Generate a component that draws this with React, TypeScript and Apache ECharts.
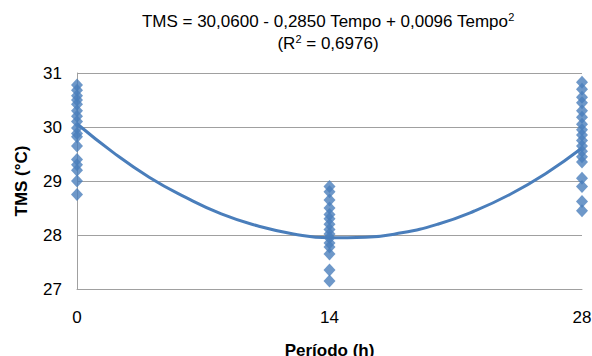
import React, { useEffect, useRef } from "react";
import * as echarts from "echarts";

const periods = [0, 14, 28];
const tms0 = [30.78, 30.68, 30.58, 30.5, 30.42, 30.3, 30.2, 30.1, 29.98, 29.88, 29.82, 29.65, 29.4, 29.3, 29.2, 29.0, 28.75];
const tms14 = [28.9, 28.8, 28.65, 28.5, 28.38, 28.3, 28.2, 28.1, 28.02, 27.95, 27.85, 27.78, 27.65, 27.35, 27.15];
const tms28 = [30.83, 30.7, 30.55, 30.45, 30.3, 30.18, 30.05, 29.95, 29.85, 29.75, 29.65, 29.55, 29.45, 29.35, 29.05, 28.9, 28.62, 28.45];
const trendX = [0, 2, 4, 6, 8, 10, 12, 14, 16, 18, 20, 22, 24, 26, 28];
const trendY = [30.06, 29.53, 29.07, 28.7, 28.39, 28.17, 28.02, 27.95, 27.96, 28.04, 28.2, 28.44, 28.75, 29.14, 29.61];
const yTicks = [27, 28, 29, 30, 31];
const xTicks = [0, 14, 28];

const COLOR = "#4A7EBB";
const FONT = "Liberation Sans, Arial, sans-serif";

export default function App() {
  const ref = useRef<HTMLDivElement>(null);
  useEffect(() => {
    if (!ref.current) return;
    const chart = echarts.init(ref.current, null, { renderer: "svg" });
    const scatter: number[][] = [];
    [tms0, tms14, tms28].forEach((arr, i) => arr.forEach((v) => scatter.push([periods[i], v])));
    chart.setOption({
      animation: false,
      backgroundColor: "#fff",
      title: {
        left: 323,
        textAlign: "center",
        top: 5,
        text: "{a|TMS = 30,0600 - 0,2850 Tempo + 0,0096 Tempo}{s|2}\n{a|(R}{s|2}{a| = 0,6976)}",
        textStyle: {
          fontFamily: FONT,
          fontWeight: "normal",
          color: "#000",
          rich: {
            a: { fontSize: 17, fontFamily: FONT, color: "#000", lineHeight: 22 },
            s: { fontSize: 11, fontFamily: FONT, color: "#000", lineHeight: 22, padding: [0, 0, 8, 0] },
          },
        },
      },
      grid: { left: 77, right: 10, top: 73, bottom: 67, outerBoundsMode: "none" },
      xAxis: {
        type: "value",
        min: 0,
        max: 28,
        interval: 14,
        name: "Período (h)",
        nameLocation: "middle",
        nameGap: 53,
        nameTextStyle: { fontFamily: FONT, fontSize: 17, fontWeight: "bold", color: "#000" },
        axisLine: { show: true, lineStyle: { color: "#A0A0A0" } },
        axisTick: { show: false },
        axisLabel: {
          fontFamily: FONT,
          fontSize: 17,
          color: "#000",
          margin: 20,
          customValues: xTicks,
        },
        splitLine: { show: false },
      },
      yAxis: {
        type: "value",
        min: 27,
        max: 31,
        interval: 1,
        name: "TMS (°C)",
        nameLocation: "middle",
        nameGap: 47,
        nameTextStyle: { fontFamily: FONT, fontSize: 17, fontWeight: "bold", color: "#000" },
        axisLine: { show: true, lineStyle: { color: "#A0A0A0" } },
        axisTick: { show: false },
        axisLabel: { fontFamily: FONT, fontSize: 17, color: "#000", margin: 15, customValues: yTicks },
        splitLine: { show: true, lineStyle: { color: "#A0A0A0", width: 1 } },
      },
      series: [
        {
          type: "line",
          data: trendX.map((x, i) => [x, trendY[i]]),
          smooth: true,
          showSymbol: false,
          lineStyle: { color: COLOR, width: 3 },
          z: 2,
        },
        {
          type: "scatter",
          data: scatter,
          symbol: "diamond",
          symbolSize: [12, 13],
          itemStyle: { color: COLOR },
          clip: false,
          z: 3,
        },
      ],
    });
    return () => chart.dispose();
  }, []);
  return <div ref={ref} style={{ width: 592, height: 356, position: "absolute", left: 0, top: 0 }} />;
}
